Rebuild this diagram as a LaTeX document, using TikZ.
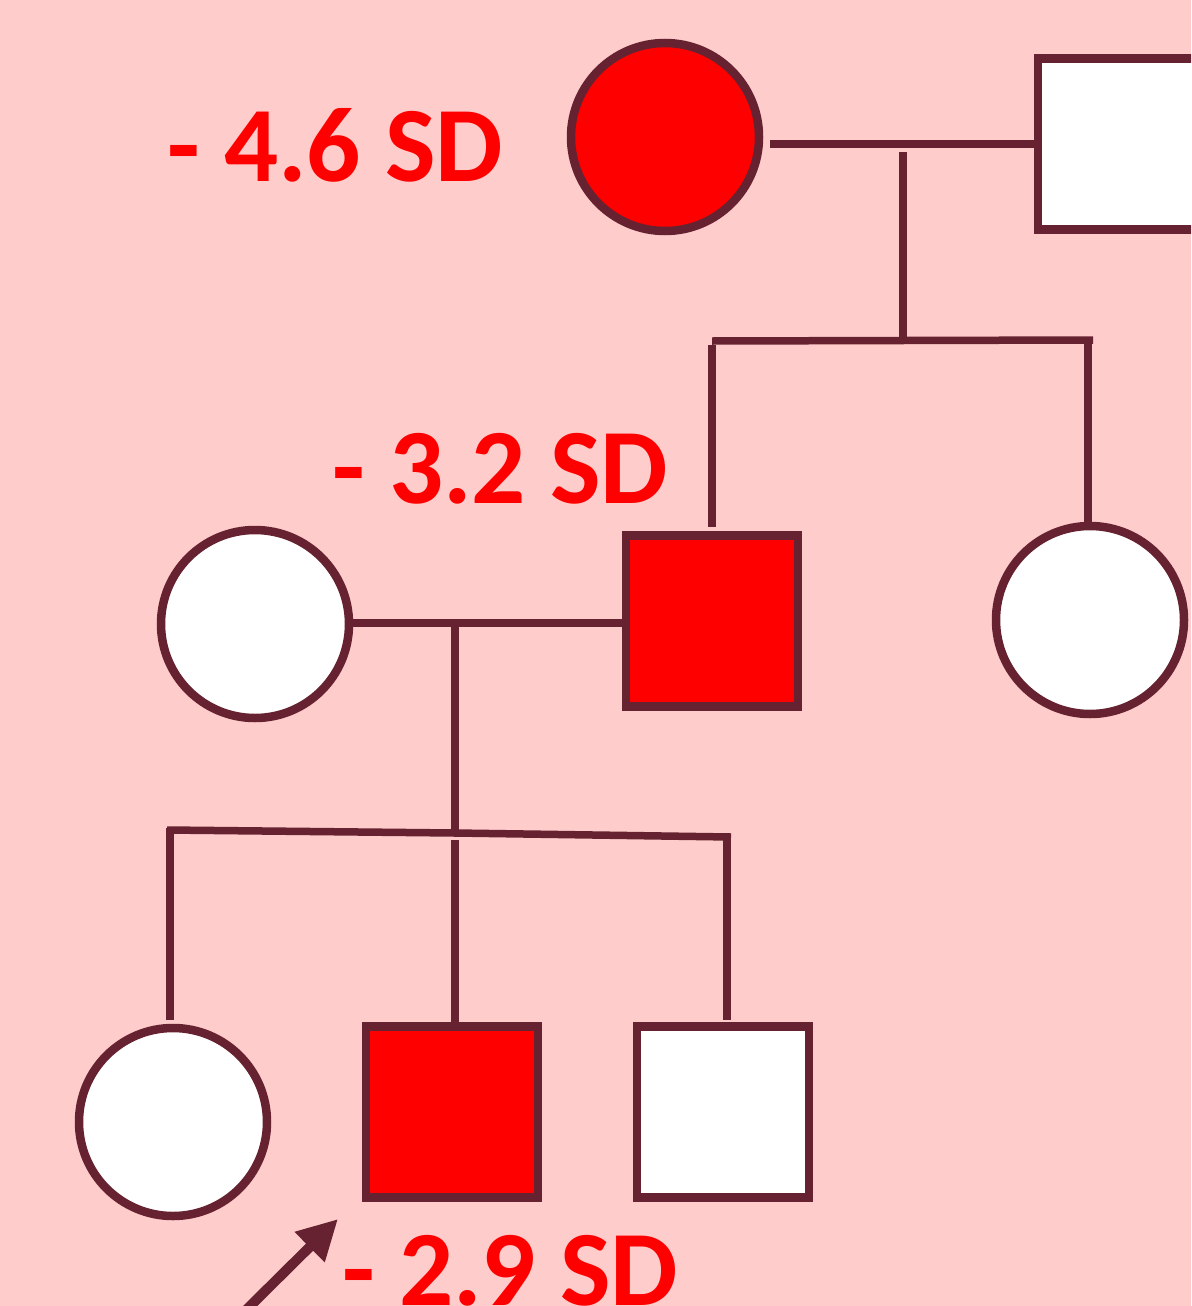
\documentclass[tikz,border=0pt]{standalone}
\usepackage{fontspec}
\setmainfont{Carlito}
\usetikzlibrary{arrows.meta}
\definecolor{bgpink}{RGB}{255,204,204}
\definecolor{kinline}{RGB}{102,34,48}
\definecolor{affected}{RGB}{255,0,0}
\tikzset{
  x=1pt, y=-1pt,
  person/.style={draw=kinline, line width=8.5pt, inner sep=0pt, outer sep=0pt},
  female/.style={person, circle, minimum size=188pt},
  male/.style={person, rectangle, minimum width=172pt, minimum height=171pt},
  aff/.style={fill=affected},
  unaff/.style={fill=white},
  kin/.style={draw=kinline, line width=7.5pt},
  sdlabel/.style={text=affected, font=\bfseries\fontsize{107}{112}\selectfont, anchor=base west, inner sep=0pt}
}
\begin{document}
\begin{tikzpicture}
  % page and background
  \path[use as bounding box] (0,0) rectangle (1191,1306);
  \clip (0,0) rectangle (1191,1306);
  \fill[bgpink] (0,0) rectangle (1191,1306);

  % generation I
  \node[female, aff]   (g1f) at (665,137) {};
  \node[male, unaff]   (g1m) at (1124,144) {};
  % generation II
  \node[male, aff]     (g2m) at (712,621) {};
  \node[female, unaff] (g2s) at (1090,620) {};
  \node[female, unaff] (g2w) at (255,624) {};
  % generation III
  \node[female, unaff] (g3a) at (173,1122) {};
  \node[male, aff]     (g3b) at (452,1112) {};
  \node[male, unaff]   (g3c) at (723,1112) {};

  % junction points
  \coordinate (m1a) at (770,144);
  \coordinate (d1t) at (903,152);
  \coordinate (d1b) at (903,340);
  \coordinate (s1l) at (712,341);
  \coordinate (s1r) at (1093,340);
  \coordinate (c1a) at (712,527);
  \coordinate (c1b) at (1088,525);
  \coordinate (m2a) at (352,623);
  \coordinate (m2b) at (622,623);
  \coordinate (d2t) at (455,623);
  \coordinate (s2l) at (167,830);
  \coordinate (s2m) at (455,833);
  \coordinate (s2r) at (731,837);
  \coordinate (c2a) at (170,1020);
  \coordinate (c2b) at (455,1024);
  \coordinate (c2c) at (727,1020);

  % generation I mating and sibship
  \draw[kin] (m1a) -- (g1m.west |- m1a);
  \draw[kin] (d1t) -- (d1b);
  \draw[kin] (s1l) -- (s1r);
  \draw[kin] ([yshift=-3.75pt]s1l) -- (c1a);
  \draw[kin] (1088,338) -- (c1b);

  % generation II mating and sibship
  \draw[kin] (m2a) -- (m2b);
  \draw[kin] (d2t) -- (s2m);
  \draw[kin] (s2l) -- (s2m) -- (s2r);
  \draw[kin] (170,828) -- (c2a);
  \draw[kin] (455,840) -- (c2b);
  \draw[kin] (727,834) -- (c2c);

  % proband arrow
  \coordinate (ptail) at (238,1318);
  \coordinate (phead) at (338,1219);
  \draw[kinline, line width=10pt, -{Triangle[length=40pt, width=40pt]}] (ptail) -- (phead);

  % standard deviation labels
  \node[sdlabel] (l1) at (167,181) {- 4.6 SD};
  \node[sdlabel] (l2) at (332,503) {- 3.2 SD};
  \node[sdlabel] (l3) at (342,1305) {- 2.9 SD};
\end{tikzpicture}
\end{document}
